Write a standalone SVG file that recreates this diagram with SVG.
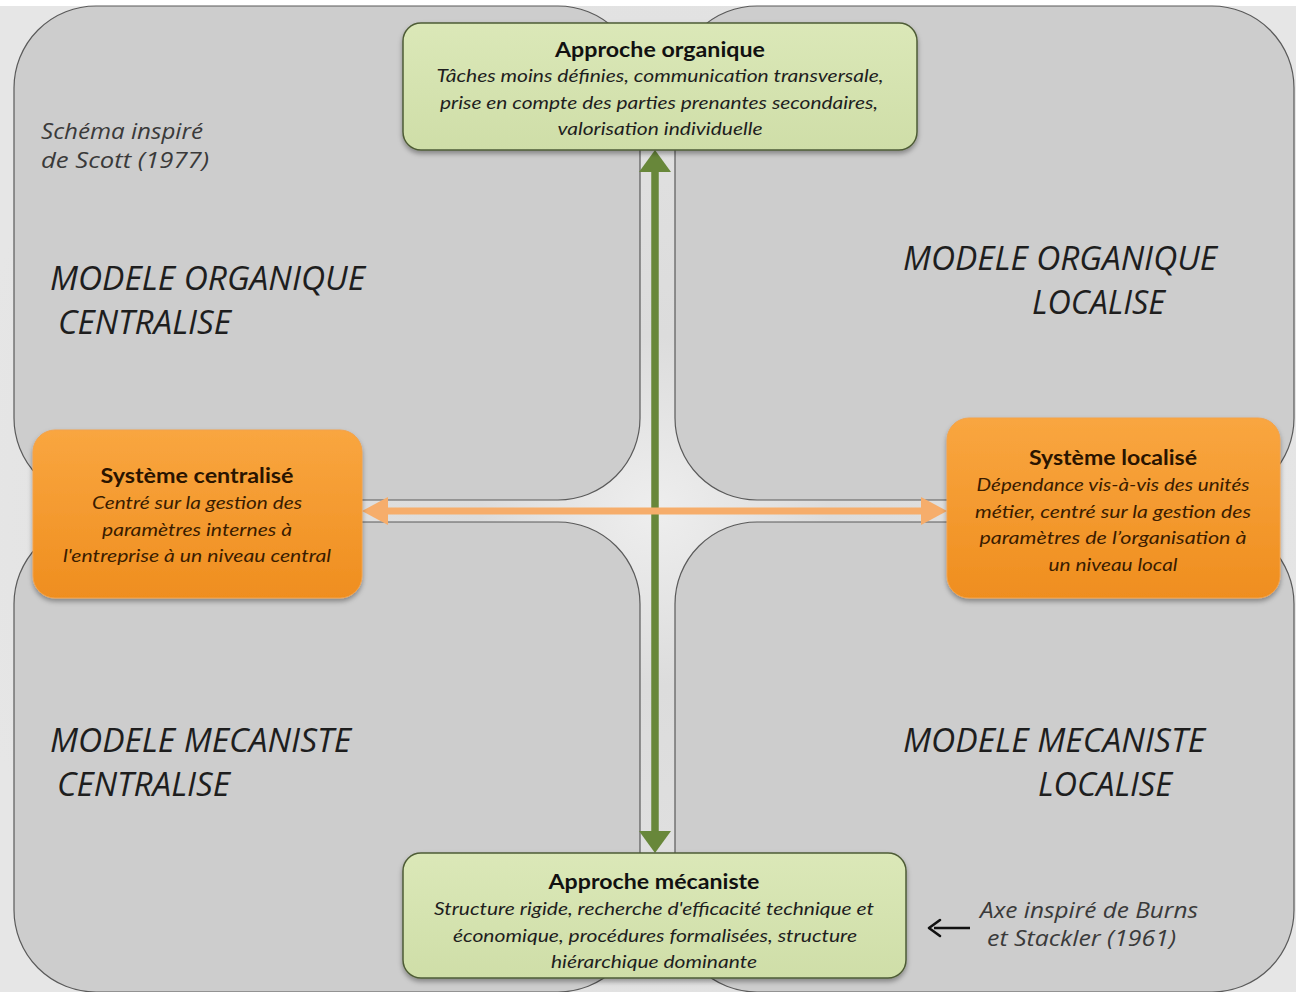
<svg xmlns="http://www.w3.org/2000/svg" width="1296" height="992" viewBox="0 0 1296 992">
<defs>
<radialGradient id="bg" cx="655" cy="511" r="700" gradientUnits="userSpaceOnUse">
<stop offset="0" stop-color="#eeeeee"/>
<stop offset="0.25" stop-color="#dcdcdc"/>
<stop offset="1" stop-color="#e6e6e6"/>
</radialGradient>
<linearGradient id="green" x1="0" y1="0" x2="0" y2="1">
<stop offset="0" stop-color="#dbe8b8"/>
<stop offset="1" stop-color="#cfdea8"/>
</linearGradient>
<linearGradient id="orange" x1="0" y1="0" x2="0" y2="1">
<stop offset="0" stop-color="#f9a640"/>
<stop offset="1" stop-color="#ef8e1f"/>
</linearGradient>
<filter id="shadow" x="-10%" y="-10%" width="120%" height="130%">
<feDropShadow dx="0" dy="3" stdDeviation="2.5" flood-color="#000" flood-opacity="0.35"/>
</filter>
<filter id="soft" x="-5%" y="-50%" width="110%" height="200%">
<feGaussianBlur stdDeviation="1.5"/>
</filter>
</defs>
<style>
.quad{fill:#cdcdcd;stroke:#5a5a5a;stroke-width:1.2}
.gbox{fill:url(#green);stroke:#4e5c36;stroke-width:1.5;filter:url(#shadow)}
.obox{fill:url(#orange);stroke:#f3a24a;stroke-width:1;filter:url(#shadow)}
.title{font-family:"Lato","Liberation Sans",sans-serif;font-weight:bold;font-size:20px;fill:#111;text-anchor:middle}
.desc{font-family:"Lato","Liberation Sans",sans-serif;font-style:italic;font-size:17px;fill:#1e1e1e;text-anchor:middle}
.odesc{font-family:"Lato","Liberation Sans",sans-serif;font-style:italic;font-size:17px;fill:#3a1c00;text-anchor:middle}
.otitle{font-family:"Lato","Liberation Sans",sans-serif;font-weight:bold;font-size:20px;fill:#2a1400;text-anchor:middle}
.model{font-family:"Open Sans","Liberation Sans",sans-serif;font-style:italic;font-size:32px;fill:#1e1e1e}
.note{font-family:"Open Sans","Liberation Sans",sans-serif;font-style:italic;font-size:22px;fill:#3a3a3a}
</style>
<rect x="0" y="0" width="1296" height="992" fill="#ffffff"/>
<rect x="0" y="6" width="1296" height="986" fill="url(#bg)"/>
<g id="quadrants">
<rect class="quad" x="14" y="6" width="626" height="494" rx="82" ry="82"/>
<rect class="quad" x="675" y="6" width="619" height="494" rx="82" ry="82"/>
<rect class="quad" x="14" y="522" width="626" height="470" rx="82" ry="82"/>
<rect class="quad" x="675" y="522" width="619" height="470" rx="82" ry="82"/>
</g>
<g id="labels">
<text class="note" x="41" y="139" textLength="162" lengthAdjust="spacingAndGlyphs">Schéma inspiré</text>
<text class="note" x="41" y="168" textLength="168" lengthAdjust="spacingAndGlyphs">de Scott (1977)</text>
<text class="model" x="50" y="290" textLength="315" lengthAdjust="spacingAndGlyphs">MODELE ORGANIQUE</text>
<text class="model" x="58" y="334" textLength="173" lengthAdjust="spacingAndGlyphs">CENTRALISE</text>
<text class="model" x="903" y="270" textLength="314" lengthAdjust="spacingAndGlyphs">MODELE ORGANIQUE</text>
<text class="model" x="1032" y="314" textLength="133" lengthAdjust="spacingAndGlyphs">LOCALISE</text>
<text class="model" x="50" y="752" textLength="301" lengthAdjust="spacingAndGlyphs">MODELE MECANISTE</text>
<text class="model" x="57" y="796" textLength="173" lengthAdjust="spacingAndGlyphs">CENTRALISE</text>
<text class="model" x="903" y="752" textLength="302" lengthAdjust="spacingAndGlyphs">MODELE MECANISTE</text>
<text class="model" x="1038" y="796" textLength="134" lengthAdjust="spacingAndGlyphs">LOCALISE</text>
<text class="note" x="980" y="918" textLength="218" lengthAdjust="spacingAndGlyphs">Axe inspiré de Burns</text>
<text class="note" x="987" y="946" textLength="189" lengthAdjust="spacingAndGlyphs">et Stackler (1961)</text>
<line x1="934" y1="928" x2="970" y2="928" stroke="#111" stroke-width="2.6"/>
<path d="M929,928 L940,920 M929,928 L940,936" stroke="#111" stroke-width="2.6" fill="none" stroke-linecap="round"/>
</g>
<g id="connectors">
<line x1="655" y1="168" x2="655" y2="836" stroke="#68873a" stroke-width="7.5"/>
<polygon points="655,150 639,172 671,172" fill="#68873a"/>
<polygon points="655,853 639,831 671,831" fill="#68873a"/>
<line x1="384" y1="516" x2="926" y2="516" stroke="#6a6a6a" stroke-width="5" filter="url(#soft)" opacity="0.8"/>
<line x1="384" y1="511" x2="926" y2="511" stroke="#f6ad6b" stroke-width="7"/>
<polygon points="362,511 388,497 388,525" fill="#f6ad6b"/>
<polygon points="947,511 921,497 921,525" fill="#f6ad6b"/>
</g>
<g id="node-organique">
<rect class="gbox" x="403" y="23" width="514" height="127" rx="18" ry="18"/>
<text class="title" x="660" y="57" textLength="210" lengthAdjust="spacingAndGlyphs">Approche organique</text>
<text class="desc" x="660" y="82" textLength="447" lengthAdjust="spacingAndGlyphs">Tâches moins définies, communication transversale,</text>
<text class="desc" x="659" y="109" textLength="438" lengthAdjust="spacingAndGlyphs">prise en compte des parties prenantes secondaires,</text>
<text class="desc" x="660" y="135" textLength="205" lengthAdjust="spacingAndGlyphs">valorisation individuelle</text>
</g>
<g id="node-mecaniste">
<rect class="gbox" x="403" y="853" width="503" height="125" rx="18" ry="18"/>
<text class="title" x="654" y="889" textLength="211" lengthAdjust="spacingAndGlyphs">Approche mécaniste</text>
<text class="desc" x="654" y="915" textLength="440" lengthAdjust="spacingAndGlyphs">Structure rigide, recherche d'efficacité technique et</text>
<text class="desc" x="655" y="942" textLength="404" lengthAdjust="spacingAndGlyphs">économique, procédures formalisées, structure</text>
<text class="desc" x="654" y="968" textLength="206" lengthAdjust="spacingAndGlyphs">hiérarchique dominante</text>
</g>
<g id="node-centralise">
<rect class="obox" x="33" y="430" width="329" height="168" rx="22" ry="22"/>
<text class="otitle" x="197" y="483" textLength="193" lengthAdjust="spacingAndGlyphs">Système centralisé</text>
<text class="odesc" x="197" y="509" textLength="210" lengthAdjust="spacingAndGlyphs">Centré sur la gestion des</text>
<text class="odesc" x="197" y="536" textLength="190" lengthAdjust="spacingAndGlyphs">paramètres internes à</text>
<text class="odesc" x="197" y="562" textLength="268" lengthAdjust="spacingAndGlyphs">l'entreprise à un niveau central</text>
</g>
<g id="node-localise">
<rect class="obox" x="947" y="418" width="333" height="180" rx="22" ry="22"/>
<text class="otitle" x="1113" y="465" textLength="168" lengthAdjust="spacingAndGlyphs">Système localisé</text>
<text class="odesc" x="1113" y="491" textLength="273" lengthAdjust="spacingAndGlyphs">Dépendance vis-à-vis des unités</text>
<text class="odesc" x="1113" y="518" textLength="276" lengthAdjust="spacingAndGlyphs">métier, centré sur la gestion des</text>
<text class="odesc" x="1113" y="544" textLength="267" lengthAdjust="spacingAndGlyphs">paramètres de l’organisation à</text>
<text class="odesc" x="1113" y="571" textLength="129" lengthAdjust="spacingAndGlyphs">un niveau local</text>
</g>
</svg>
